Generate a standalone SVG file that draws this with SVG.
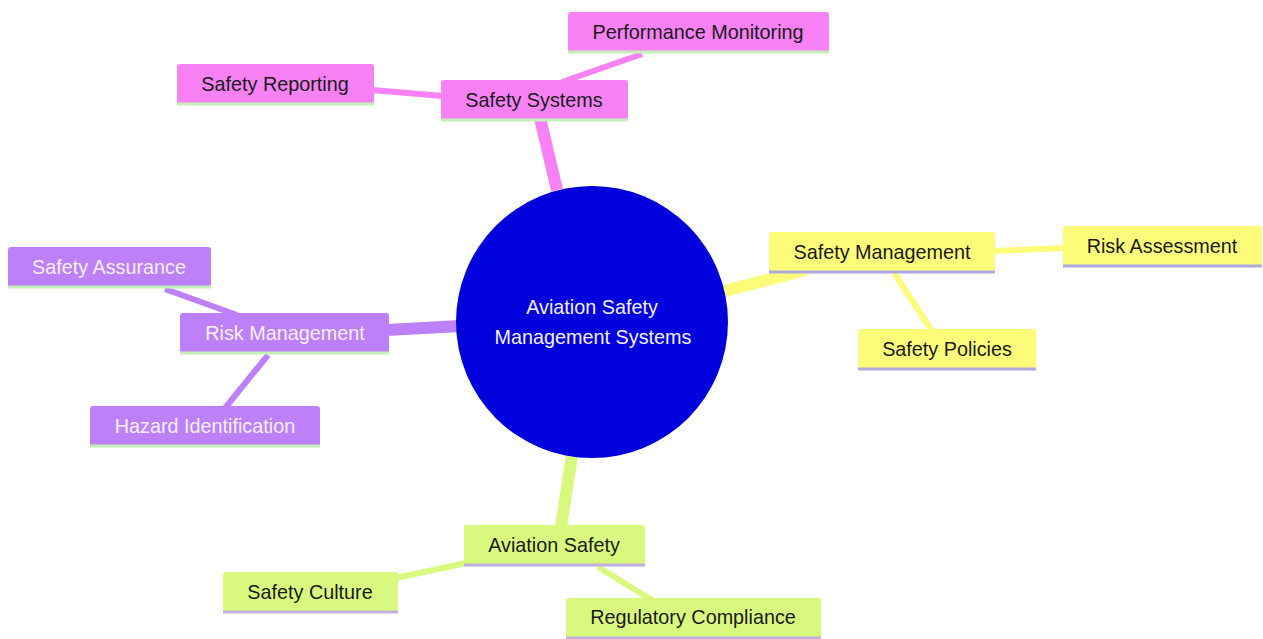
<svg xmlns="http://www.w3.org/2000/svg" width="1263" height="639" viewBox="0 0 1263 639">
<style>
text{font-family:"Liberation Sans",Arial,sans-serif;font-size:19.8px;text-anchor:middle;dominant-baseline:central}
.pink rect.b{fill:#f882f5}
.pink line{stroke:#c4f0b8}
.purple rect.b{fill:#bd80f9}
.purple line{stroke:#c4f0b8}
.yellow rect.b{fill:#fcfc7a}
.yellow line{stroke:#b0a8e0}
.green rect.b{fill:#d9f97e}
.green line{stroke:#c0b0e0}
.dark{fill:#1a1a1a}
.light{fill:#f4f0ff}
.ul{stroke-width:3}
.c path, .c line{fill:none;stroke-linecap:butt}
</style>
<rect width="1263" height="639" fill="#ffffff"/>
<g id="connectors" class="c">
<line x1="557" y1="190" x2="540" y2="118" stroke="#f882f5" stroke-width="12"/>
<line x1="443" y1="96" x2="372" y2="90" stroke="#f882f5" stroke-width="6"/>
<line x1="562" y1="82" x2="642" y2="54" stroke="#f882f5" stroke-width="6"/>
<line x1="460" y1="326" x2="387" y2="330" stroke="#bd80f9" stroke-width="12"/>
<line x1="237" y1="315" x2="165" y2="289" stroke="#bd80f9" stroke-width="6"/>
<line x1="268" y1="355" x2="225" y2="408" stroke="#bd80f9" stroke-width="6"/>
<line x1="724" y1="291" x2="806" y2="270" stroke="#fcfc7a" stroke-width="12"/>
<line x1="993" y1="251" x2="1065" y2="248" stroke="#fcfc7a" stroke-width="6"/>
<line x1="894" y1="273" x2="932" y2="331" stroke="#fcfc7a" stroke-width="6"/>
<line x1="572" y1="455" x2="561" y2="527" stroke="#d9f97e" stroke-width="12"/>
<line x1="466" y1="563" x2="396" y2="578" stroke="#d9f97e" stroke-width="6"/>
<line x1="598" y1="567" x2="652" y2="600" stroke="#d9f97e" stroke-width="6"/>
</g>
<g id="root">
<circle cx="592" cy="322" r="136" fill="#0000dc"/>
<text x="592" y="307" class="light">Aviation Safety</text>
<text x="593" y="337" class="light">Management Systems</text>
</g>
<g id="safety-systems" class="pink">
<rect class="b" x="441" y="80" width="187" height="40" rx="3"/>
<line class="ul" x1="441" y1="120" x2="628" y2="120"/>
<text x="534" y="100" class="dark">Safety Systems</text>
</g>
<g id="safety-reporting" class="pink">
<rect class="b" x="177" y="64" width="197" height="40" rx="3"/>
<line class="ul" x1="177" y1="104" x2="374" y2="104"/>
<text x="275" y="84" class="dark">Safety Reporting</text>
</g>
<g id="performance-monitoring" class="pink">
<rect class="b" x="568" y="12" width="261" height="40" rx="3"/>
<line class="ul" x1="568" y1="52" x2="829" y2="52"/>
<text x="698" y="32" class="dark">Performance Monitoring</text>
</g>
<g id="risk-management" class="purple">
<rect class="b" x="180" y="313" width="209" height="40" rx="3"/>
<line class="ul" x1="180" y1="353" x2="389" y2="353"/>
<text x="285" y="333" class="light">Risk Management</text>
</g>
<g id="safety-assurance" class="purple">
<rect class="b" x="8" y="247" width="203" height="40" rx="3"/>
<line class="ul" x1="8" y1="287" x2="211" y2="287"/>
<text x="109" y="267" class="light">Safety Assurance</text>
</g>
<g id="hazard-identification" class="purple">
<rect class="b" x="90" y="406" width="230" height="40" rx="3"/>
<line class="ul" x1="90" y1="446" x2="320" y2="446"/>
<text x="205" y="426" class="light">Hazard Identification</text>
</g>
<g id="safety-management" class="yellow">
<rect class="b" x="769" y="232" width="226" height="40" rx="3"/>
<line class="ul" x1="769" y1="272" x2="995" y2="272"/>
<text x="882" y="252" class="dark">Safety Management</text>
</g>
<g id="risk-assessment" class="yellow">
<rect class="b" x="1063" y="226" width="199" height="40" rx="3"/>
<line class="ul" x1="1063" y1="266" x2="1262" y2="266"/>
<text x="1162" y="246" class="dark">Risk Assessment</text>
</g>
<g id="safety-policies" class="yellow">
<rect class="b" x="858" y="329" width="178" height="40" rx="3"/>
<line class="ul" x1="858" y1="369" x2="1036" y2="369"/>
<text x="947" y="349" class="dark">Safety Policies</text>
</g>
<g id="aviation-safety" class="green">
<rect class="b" x="464" y="525" width="181" height="40" rx="3"/>
<line class="ul" x1="464" y1="565" x2="645" y2="565"/>
<text x="554" y="545" class="dark">Aviation Safety</text>
</g>
<g id="safety-culture" class="green">
<rect class="b" x="223" y="572" width="175" height="40" rx="3"/>
<line class="ul" x1="223" y1="612" x2="398" y2="612"/>
<text x="310" y="592" class="dark">Safety Culture</text>
</g>
<g id="regulatory-compliance" class="green">
<rect class="b" x="566" y="598" width="255" height="40" rx="3"/>
<line class="ul" x1="566" y1="638" x2="821" y2="638"/>
<text x="693" y="617" class="dark">Regulatory Compliance</text>
</g>
</svg>
